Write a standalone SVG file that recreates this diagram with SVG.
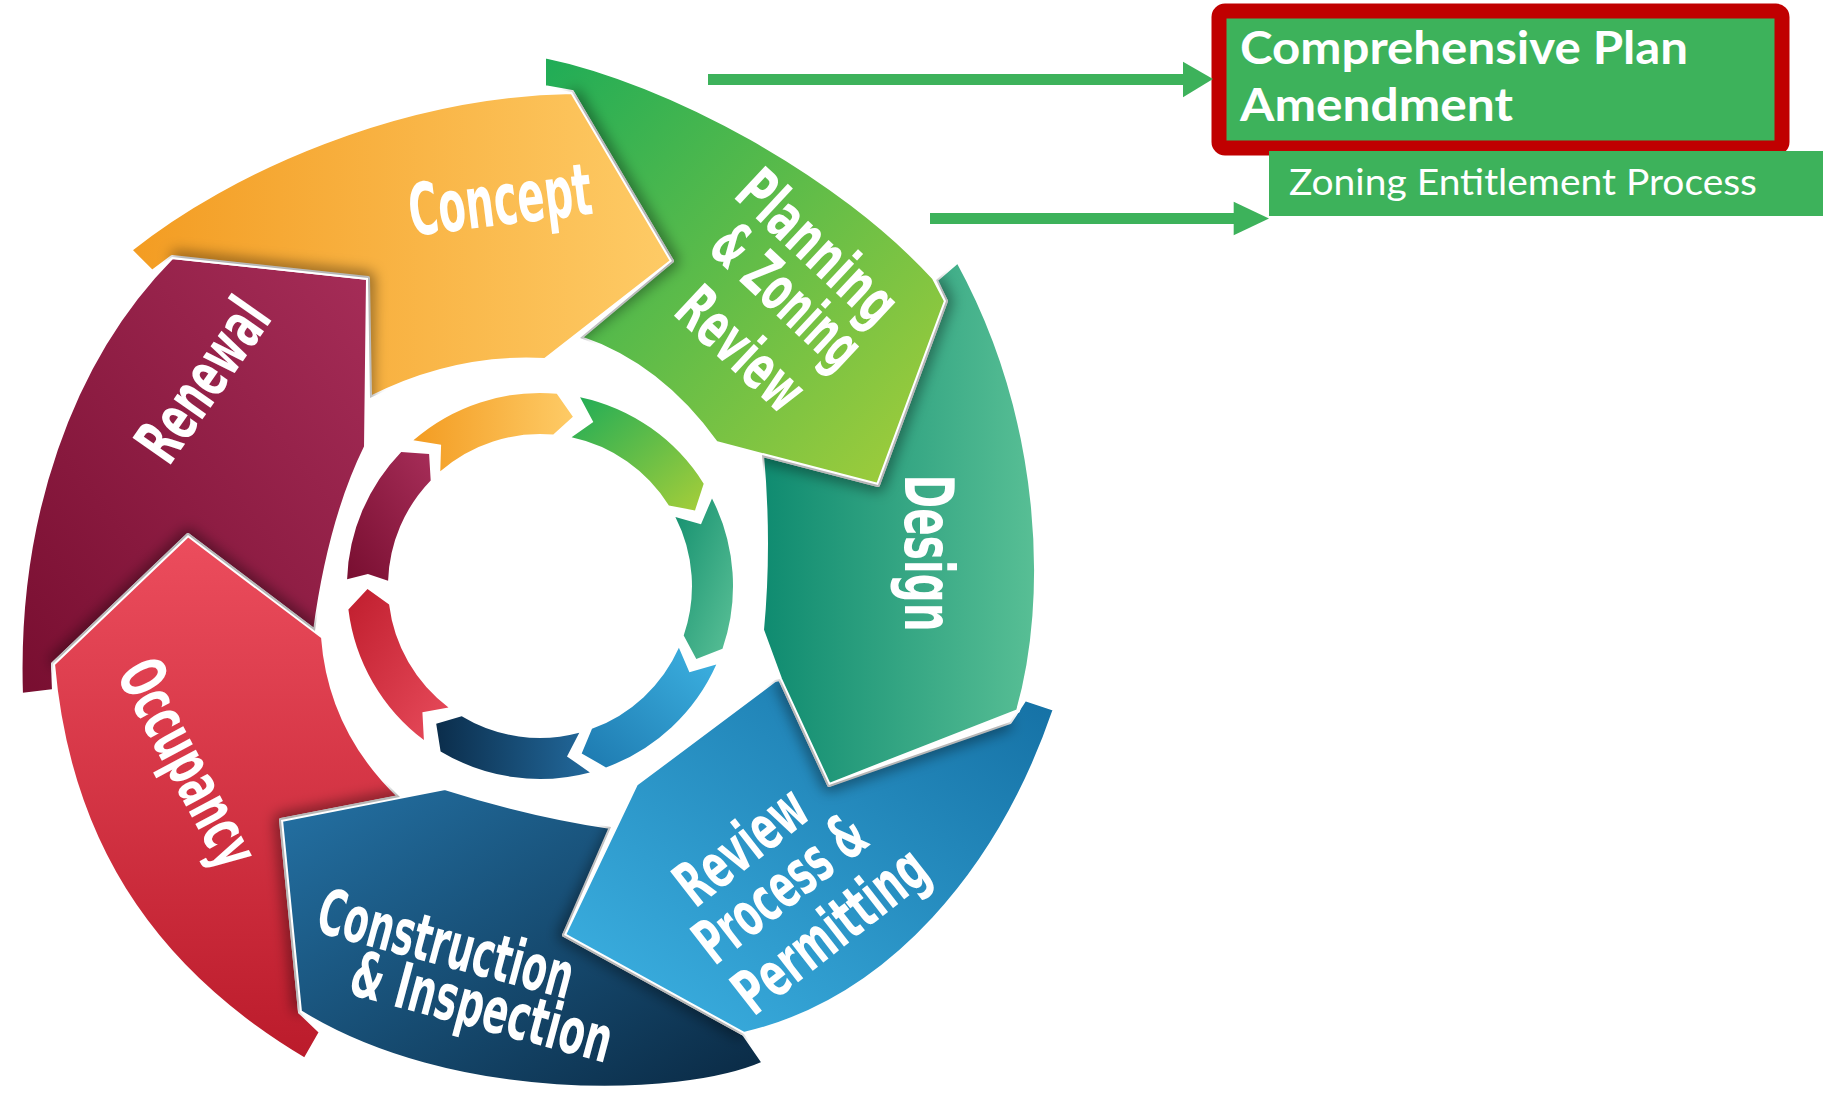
<svg xmlns="http://www.w3.org/2000/svg" width="1823" height="1096" viewBox="0 0 1823 1096">
<defs>
<linearGradient id="gConcept" x1="0" y1="0" x2="1" y2="0"><stop offset="0" stop-color="#F39C22"/><stop offset="1" stop-color="#FECB66"/></linearGradient>
<linearGradient id="gPlanning" x1="0" y1="0" x2="1" y2="1"><stop offset="0" stop-color="#1FAC57"/><stop offset="1" stop-color="#A6CE39"/></linearGradient>
<linearGradient id="gDesign" x1="0" y1="0" x2="1" y2="0"><stop offset="0" stop-color="#0F8B70"/><stop offset="1" stop-color="#58BF95"/></linearGradient>
<linearGradient id="gReview" x1="1" y1="0" x2="0" y2="1"><stop offset="0" stop-color="#146FA3"/><stop offset="1" stop-color="#3EB4E5"/></linearGradient>
<linearGradient id="gConstr" x1="0" y1="0" x2="1" y2="1"><stop offset="0" stop-color="#2472A5"/><stop offset="1" stop-color="#0A2943"/></linearGradient>
<linearGradient id="gOccup" x1="0" y1="0" x2="0" y2="1"><stop offset="0" stop-color="#EC4D5D"/><stop offset="1" stop-color="#BB1B2B"/></linearGradient>
<linearGradient id="gRenewal" x1="1" y1="0" x2="0" y2="1"><stop offset="0" stop-color="#A62D58"/><stop offset="1" stop-color="#780E30"/></linearGradient>
<linearGradient id="giBlue" x1="0" y1="1" x2="1" y2="0"><stop offset="0" stop-color="#1D79AF"/><stop offset="1" stop-color="#3DB2E2"/></linearGradient>
<linearGradient id="giNavy" x1="0" y1="0" x2="1" y2="0"><stop offset="0" stop-color="#0B2D4B"/><stop offset="1" stop-color="#22699C"/></linearGradient>
<linearGradient id="giRed" x1="0" y1="0" x2="1" y2="1"><stop offset="0" stop-color="#C01E2E"/><stop offset="1" stop-color="#E84C5C"/></linearGradient>
<linearGradient id="giTeal" x1="0" y1="0" x2="1" y2="1"><stop offset="0" stop-color="#15906F"/><stop offset="1" stop-color="#5BC197"/></linearGradient>
<filter id="soft" x="-20%" y="-20%" width="140%" height="140%"><feGaussianBlur stdDeviation="7"/></filter>
<clipPath id="cRenewal"><path d="M172,257 L368,278 L366,447 Q330,520 315,631 L188,535 L53,664 L54,691 L21,695 C15,520 70,360 172,257 Z"/></clipPath>
<clipPath id="cOccup"><path d="M188,535 L323,637 Q330,730 400,797 L281,820 L300,1012 L321,1032 L305,1060 C170,980 70,860 53,664 Z"/></clipPath>
<clipPath id="cConstr"><path d="M281,820 L445,788 Q530,815 611,827 L564,935 L744,1034 L764,1063 C680,1100 450,1105 300,1012 Z"/></clipPath>
<clipPath id="cReview"><path d="M636,784 L775,680 L780,679 L829,785 L1010,722 L1025,699 L1055,709 C1000,870 890,1000 744,1034 L564,935 Z"/></clipPath>
<clipPath id="cDesign"><path d="M958,261 L936,280 L946,301 L878,485 L762,455 Q770,545 762,630 L780,679 L829,785 L1018,711 C1050,600 1045,420 958,261 Z"/></clipPath>
<clipPath id="cPlanning"><path d="M544,56 L544,87 L572,92 L672,261 L580,338 Q660,365 716,443 L878,485 L946,301 L934,278 C840,175 670,82 544,56 Z"/></clipPath>
<clipPath id="cConcept"><path d="M130,250 C230,170 400,95 572,92 L672,261 L545,360 Q455,355 370,398 L368,278 L172,257 L152,272 Z"/></clipPath>
<style>
.seg{stroke:#ffffff;stroke-width:4;stroke-linejoin:round}
.shd{fill:none;stroke:#000000;stroke-opacity:0.45;stroke-width:12;stroke-linejoin:round;filter:url(#soft)}
.lbl{fill:#ffffff;font-family:'Liberation Sans Narrow','DejaVu Sans Condensed','Roboto',sans-serif;font-weight:bold;text-anchor:middle;dominant-baseline:central}
.box{font-family:Lato,'Noto Sans','Liberation Sans',sans-serif;fill:#ffffff}
.green{fill:#3DB25B}
</style>
</defs>
<rect width="1823" height="1096" fill="#ffffff"/>

<g id="node-renewal">
<path class="seg" fill="url(#gRenewal)" d="M172,257 L368,278 L366,447 Q330,520 315,631 L188,535 L53,664 L54,691 L21,695 C15,520 70,360 172,257 Z"/>
</g>
<g id="node-occupancy">
<path class="seg" fill="url(#gOccup)" d="M188,535 L323,637 Q330,730 400,797 L281,820 L300,1012 L321,1032 L305,1060 C170,980 70,860 53,664 Z"/>
</g>
<g id="node-construction">
<path class="seg" fill="url(#gConstr)" d="M281,820 L445,788 Q530,815 611,827 L564,935 L744,1034 L764,1063 C680,1100 450,1105 300,1012 Z"/>
</g>
<g id="node-review">
<path class="seg" fill="url(#gReview)" d="M636,784 L775,680 L780,679 L829,785 L1010,722 L1025,699 L1055,709 C1000,870 890,1000 744,1034 L564,935 Z"/>
</g>
<g id="node-design">
<path class="seg" fill="url(#gDesign)" d="M958,261 L936,280 L946,301 L878,485 L762,455 Q770,545 762,630 L780,679 L829,785 L1018,711 C1050,600 1045,420 958,261 Z"/>
</g>
<g id="node-planning">
<path class="seg" fill="url(#gPlanning)" d="M544,56 L544,87 L572,92 L672,261 L580,338 Q660,365 716,443 L878,485 L946,301 L934,278 C840,175 670,82 544,56 Z"/>
</g>
<g id="node-concept">
<path class="seg" fill="url(#gConcept)" d="M130,250 C230,170 400,95 572,92 L672,261 L545,360 Q455,355 370,398 L368,278 L172,257 L152,272 Z"/>
</g>

<g id="shadows">
<path class="shd" clip-path="url(#cConcept)" d="M172,257 L368,278 L366,447"/>
<path class="shd" clip-path="url(#cRenewal)" d="M53,664 L188,535 L323,637"/>
<path class="shd" clip-path="url(#cOccup)" d="M445,788 L281,820 L300,1012"/>
<path class="shd" clip-path="url(#cConstr)" d="M636,784 L564,935 L744,1034"/>
<path class="shd" clip-path="url(#cReview)" d="M780,679 L829,785 L1010,722"/>
<path class="shd" clip-path="url(#cDesign)" d="M716,443 L878,485 L946,301 L934,278"/>
<path class="shd" clip-path="url(#cPlanning)" d="M572,92 L672,261 L545,360"/>
</g>

<g id="labels">
<text class="lbl" font-size="72" textLength="184" lengthAdjust="spacingAndGlyphs" transform="translate(500,200) rotate(-7)">Concept</text>
<text class="lbl" font-size="62" textLength="195" lengthAdjust="spacingAndGlyphs" transform="translate(818,247) rotate(43)">Planning</text>
<text class="lbl" font-size="62" textLength="180" lengthAdjust="spacingAndGlyphs" transform="translate(787,296) rotate(43)">&amp; Zoning</text>
<text class="lbl" font-size="62" textLength="150" lengthAdjust="spacingAndGlyphs" transform="translate(741,349) rotate(43)">Review</text>
<text class="lbl" font-size="68" textLength="157" lengthAdjust="spacingAndGlyphs" transform="translate(928,553) rotate(90)">Design</text>
<text class="lbl" font-size="62" textLength="150" lengthAdjust="spacingAndGlyphs" transform="translate(741,846) rotate(-38)">Review</text>
<text class="lbl" font-size="62" textLength="200" lengthAdjust="spacingAndGlyphs" transform="translate(780,888) rotate(-38)">Process &amp;</text>
<text class="lbl" font-size="62" textLength="228" lengthAdjust="spacingAndGlyphs" transform="translate(830,930) rotate(-38)">Permitting</text>
<text class="lbl" font-size="64" textLength="262" lengthAdjust="spacingAndGlyphs" transform="translate(446,944) rotate(15)">Construction</text>
<text class="lbl" font-size="64" textLength="268" lengthAdjust="spacingAndGlyphs" transform="translate(482,1007) rotate(15)">&amp; Inspection</text>
<text class="lbl" font-size="64" textLength="225" lengthAdjust="spacingAndGlyphs" transform="translate(188,763) rotate(62)">Occupancy</text>
<text class="lbl" font-size="64" textLength="182" lengthAdjust="spacingAndGlyphs" transform="translate(203,380) rotate(-55)">Renewal</text>
</g>

<g id="inner-ring">
<path fill="url(#gConcept)" d="M413.4,440.3 A193,193 0 0 1 556.8,393.7 L572.9,416.7 L553.3,434.6 A152,152 0 0 0 440.3,471.3 L441.1,444.7 Z"/>
<path fill="url(#gPlanning)" d="M580.1,397.2 A193,193 0 0 1 703.7,483.7 L695,510.4 L668.9,505.5 A152,152 0 0 0 571.6,437.3 L593.3,421.9 Z"/>
<path fill="url(#giTeal)" d="M712,498.4 A193,193 0 0 1 722.5,648.8 L696.3,658.9 L683.7,635.5 A152,152 0 0 0 675.4,517 L701,524.2 Z"/>
<path fill="url(#giBlue)" d="M716.3,664.5 A193,193 0 0 1 606,767.4 L581.7,753.4 L592,728.8 A152,152 0 0 0 678.9,647.8 L689.4,672.3 Z"/>
<path fill="url(#giNavy)" d="M589.9,772.4 A193,193 0 0 1 440.6,751.4 L436.2,723.8 L461.7,716.3 A152,152 0 0 0 579.3,732.8 L567,756.4 Z"/>
<path fill="url(#giRed)" d="M423.9,740.1 A193,193 0 0 1 348.4,609.5 L367.5,589 L389.1,604.5 A152,152 0 0 0 448.5,707.4 L422.4,712.2 Z"/>
<path fill="url(#gRenewal)" d="M347.1,579.3 A193,193 0 0 1 401.2,451.9 L429.1,453.9 L430.7,480.4 A152,152 0 0 0 388.1,580.7 L367.9,574 Z"/>
</g>

<g id="node-comprehensive-plan">
<rect x="1219" y="11" width="563" height="137" rx="6" fill="#3DB25B" stroke="#C00000" stroke-width="15"/>
<text class="box" x="1240" y="64" font-size="45" font-weight="bold" textLength="448" lengthAdjust="spacingAndGlyphs">Comprehensive Plan</text>
<text class="box" x="1240" y="121" font-size="45" font-weight="bold" textLength="273" lengthAdjust="spacingAndGlyphs">Amendment</text>
</g>
<g id="node-zoning">
<rect class="green" x="1269" y="151" width="554" height="65"/>
<text class="box" x="1289" y="195" font-size="37" textLength="468" lengthAdjust="spacingAndGlyphs">Zoning Entitlement Process</text>
</g>

<g id="connectors">
<rect class="green" x="708" y="74" width="477" height="11"/>
<polygon class="green" points="1183,61.7 1213,79 1183,97.3"/>
<rect class="green" x="930" y="213" width="305" height="11"/>
<polygon class="green" points="1233.7,201.7 1269,218.5 1233.7,235.3"/>
</g>
</svg>
